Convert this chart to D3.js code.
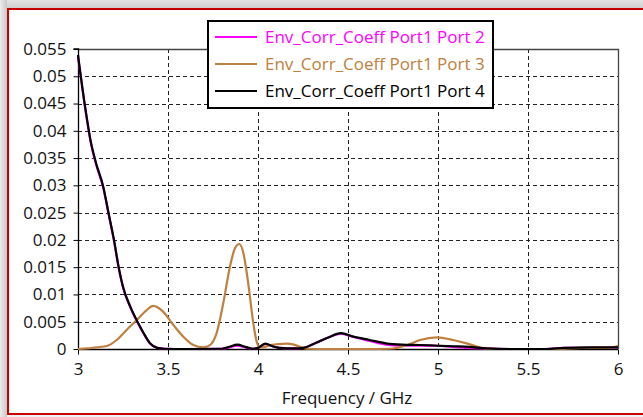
<!DOCTYPE html>
<html>
<head>
<meta charset="utf-8">
<script src="https://cdn.jsdelivr.net/npm/d3@7"></script>
<style>
  html, body { margin: 0; padding: 0; background: #fff; }
  svg { display: block; }
  text { font-family: "Open Sans", "Noto Sans", sans-serif; }
</style>
</head>
<body>
<svg id="chart" width="643" height="417"></svg>
<script>
// Envelope correlation coefficient vs. frequency (GHz)
const xTicks = [3, 3.5, 4, 4.5, 5, 5.5, 6];
const yTicks = [0, 0.005, 0.01, 0.015, 0.02, 0.025, 0.03, 0.035, 0.04, 0.045, 0.05, 0.055];
const yTickLabels = ["0", "0.005", "0.01", "0.015", "0.02", "0.025", "0.03", "0.035", "0.04", "0.045", "0.05", "0.055"];
const xLabel = "Frequency / GHz";
const seriesNames = ["Env_Corr_Coeff Port1 Port 2", "Env_Corr_Coeff Port1 Port 3", "Env_Corr_Coeff Port1 Port 4"];
const seriesColors = ["#ff00ff", "#bf8040", "#000000"];

// Port1-Port2
const freqP2 = [3.0, 3.04, 3.07, 3.1, 3.14, 3.17, 3.2, 3.225, 3.25, 3.29, 3.335, 3.365, 3.4, 3.44, 3.48, 3.6, 3.8, 3.84, 3.885, 3.93, 3.97, 4.0, 4.04, 4.08, 4.12, 4.2, 4.25, 4.32, 4.39, 4.46, 4.53, 4.62, 4.71, 4.8, 4.9, 5.0, 5.08, 5.17, 5.27, 5.4, 5.6, 5.7, 5.85, 6.0];
const valP2  = [0.0537, 0.0441, 0.038, 0.0339, 0.0296, 0.0247, 0.0198, 0.015, 0.0113, 0.0077, 0.0046, 0.0028, 0.001, 0.0002, 0.00005, 0.0, 0.00005, 0.0003, 0.0006, 0.0003, 0.00003, 0.0002, 0.0009, 0.0005, 0.0002, 0.0001, 0.0002, 0.0011, 0.0021, 0.0028, 0.0022, 0.0015, 0.0008, 0.0006, 0.0006, 0.0006, 0.0004, 0.0002, 0.0001, 0.0, 0.0, 0.0002, 0.0002, 0.0003];

// Port1-Port3
const freqP3 = [3.0, 3.05, 3.1, 3.16, 3.215, 3.27, 3.326, 3.38, 3.418, 3.474, 3.53, 3.585, 3.641, 3.696, 3.733, 3.77, 3.807, 3.844, 3.872, 3.896, 3.919, 3.946, 3.974, 3.993, 4.011, 4.04, 4.067, 4.11, 4.159, 4.2, 4.233, 4.27, 4.4, 4.6, 4.733, 4.826, 4.9, 4.993, 5.085, 5.159, 5.233, 5.27, 5.4, 5.65, 5.8, 5.95, 6.0];
const valP3  = [0.0, 0.0001, 0.0003, 0.00055, 0.00165, 0.0035, 0.0053, 0.0071, 0.0079, 0.0068, 0.0044, 0.00226, 0.00073, 0.0003, 0.0007, 0.0029, 0.0084, 0.0151, 0.01846, 0.01925, 0.01754, 0.012, 0.0047, 0.0013, 0.0003, 0.0004, 0.0007, 0.0009, 0.001, 0.0008, 0.0004, 0.00005, 0.0, 0.0, 0.00005, 0.0007, 0.00165, 0.00214, 0.00165, 0.00104, 0.0003, 0.00005, 0.0, 0.0, 0.0002, 0.0002, 0.0006];

// Port1-Port4
const freqP4 = [3.0, 3.04, 3.07, 3.1, 3.14, 3.17, 3.2, 3.225, 3.25, 3.29, 3.335, 3.365, 3.4, 3.44, 3.48, 3.6, 3.8, 3.84, 3.885, 3.93, 3.97, 4.0, 4.04, 4.08, 4.12, 4.2, 4.25, 4.32, 4.39, 4.46, 4.53, 4.62, 4.71, 4.8, 4.9, 5.0, 5.08, 5.17, 5.27, 5.4, 5.6, 5.7, 5.85, 6.0];
const valP4  = [0.0539, 0.0443, 0.0382, 0.0341, 0.0298, 0.0249, 0.02, 0.0152, 0.0114, 0.0078, 0.0047, 0.0029, 0.00104, 0.0002, 0.00005, 0.0, 0.00005, 0.0004, 0.0008, 0.0004, 0.00003, 0.0002, 0.001, 0.0005, 0.0002, 0.0001, 0.0002, 0.0011, 0.0021, 0.0029, 0.00226, 0.00165, 0.00104, 0.0008, 0.00073, 0.0006, 0.0005, 0.0004, 0.0001, 0.0, 0.0, 0.0002, 0.0003, 0.0003];

const svg = d3.select("#chart");
const W = 643, H = 417;
const plot = { left: 78, right: 618, top: 49, bottom: 349 };

// window-style shadow and red frame
const defs = svg.append("defs");
const gTop = defs.append("linearGradient").attr("id", "shadeTop").attr("x1", 0).attr("y1", 0).attr("x2", 0).attr("y2", 1);
gTop.append("stop").attr("offset", "0").attr("stop-color", "#e4e4e4");
gTop.append("stop").attr("offset", "1").attr("stop-color", "#cfcfcf");
const gLeft = defs.append("linearGradient").attr("id", "shadeLeft").attr("x1", 0).attr("y1", 0).attr("x2", 1).attr("y2", 0);
gLeft.append("stop").attr("offset", "0").attr("stop-color", "#ededed");
gLeft.append("stop").attr("offset", "1").attr("stop-color", "#c8c8c8");

svg.append("rect").attr("x", 0).attr("y", 0).attr("width", W).attr("height", H).attr("fill", "#f0f0f0");
svg.append("rect").attr("x", 0).attr("y", 0).attr("width", W).attr("height", 8).attr("fill", "url(#shadeTop)");
svg.append("rect").attr("x", 0).attr("y", 0).attr("width", 7).attr("height", H).attr("fill", "url(#shadeLeft)");
svg.append("rect").attr("x", 8).attr("y", 9).attr("width", W).attr("height", 405)
  .attr("fill", "#fff").attr("stroke", "#c80000").attr("stroke-width", 2);

const x = d3.scaleLinear().domain([3, 6]).range([plot.left, plot.right]);
const y = d3.scaleLinear().domain([0, 0.055]).range([plot.bottom, plot.top]);

// grid
const grid = svg.append("g").attr("stroke", "#222").attr("stroke-width", 1).attr("stroke-dasharray", "4,3").attr("shape-rendering", "crispEdges");
grid.selectAll("line.v").data(xTicks.slice(1, -1)).join("line")
  .attr("x1", d => Math.round(x(d)) + 0.5).attr("x2", d => Math.round(x(d)) + 0.5)
  .attr("y1", plot.top).attr("y2", plot.bottom);
grid.selectAll("line.h").data(yTicks.slice(1, -1)).join("line")
  .attr("y1", d => Math.round(y(d)) + 0.5).attr("y2", d => Math.round(y(d)) + 0.5)
  .attr("x1", plot.left).attr("x2", plot.right);

// plot frame (top and right)
svg.append("path")
  .attr("d", `M${plot.left},${plot.top + 0.5}H${plot.right + 0.5}V${plot.bottom}`)
  .attr("fill", "none").attr("stroke", "#444").attr("stroke-width", 1.3);

// axes
const xAxis = d3.axisBottom(x).tickValues(xTicks).tickSize(5).tickPadding(6).tickFormat(d3.format("~g"));
const yAxis = d3.axisLeft(y).tickValues(yTicks).tickSize(5).tickPadding(7).tickFormat((d, i) => yTickLabels[i]);

const gx = svg.append("g").attr("transform", `translate(0,${plot.bottom + 0.5})`).call(xAxis);
const gy = svg.append("g").attr("transform", `translate(${plot.left + 0.5},0)`).call(yAxis);
[gx, gy].forEach(g => {
  g.select(".domain").attr("stroke", "#000").attr("stroke-width", 1.3);
  g.selectAll(".tick line").attr("stroke", "#000");
  g.selectAll(".tick text").attr("fill", "#111").style("font-size", "17px").style("font-family", "'Open Sans', sans-serif");
});
gy.select(".domain").attr("d", `M-5,${plot.top}H0V${plot.bottom}`);
gx.select(".domain").attr("d", `M${plot.left},0H${plot.right}`);
gx.selectAll(".tick text").attr("dy", "0.85em");

svg.append("text").attr("x", 347).attr("y", 404).attr("text-anchor", "middle")
  .attr("fill", "#111").style("font-size", "17px").text(xLabel);

// curves
const line = d3.line().x(d => x(d[0])).y(d => y(d[1])).curve(d3.curveMonotoneX);
const series = [
  { f: freqP2, v: valP2 },
  { f: freqP3, v: valP3 },
  { f: freqP4, v: valP4 }
];
const curves = svg.append("g");
series.forEach((s, i) => {
  curves.append("path")
    .datum(s.f.map((f, k) => [f, s.v[k]]))
    .attr("fill", "none").attr("stroke", seriesColors[i]).attr("stroke-width", 2.2)
    .attr("stroke-linejoin", "round").attr("d", line);
});

// legend
const lg = svg.append("g");
lg.append("rect").attr("x", 208).attr("y", 21).attr("width", 285).attr("height", 87)
  .attr("fill", "#fff").attr("stroke", "#000").attr("stroke-width", 2);
const rowY = [37, 64, 91];
seriesNames.forEach((name, i) => {
  lg.append("line").attr("x1", 215).attr("x2", 257).attr("y1", rowY[i]).attr("y2", rowY[i])
    .attr("stroke", seriesColors[i]).attr("stroke-width", 2.2);
  lg.append("text").attr("x", 265).attr("y", rowY[i]).attr("dy", "0.35em")
    .attr("fill", seriesColors[i]).style("font-size", "17px").text(name);
});
</script>
</body>
</html>
